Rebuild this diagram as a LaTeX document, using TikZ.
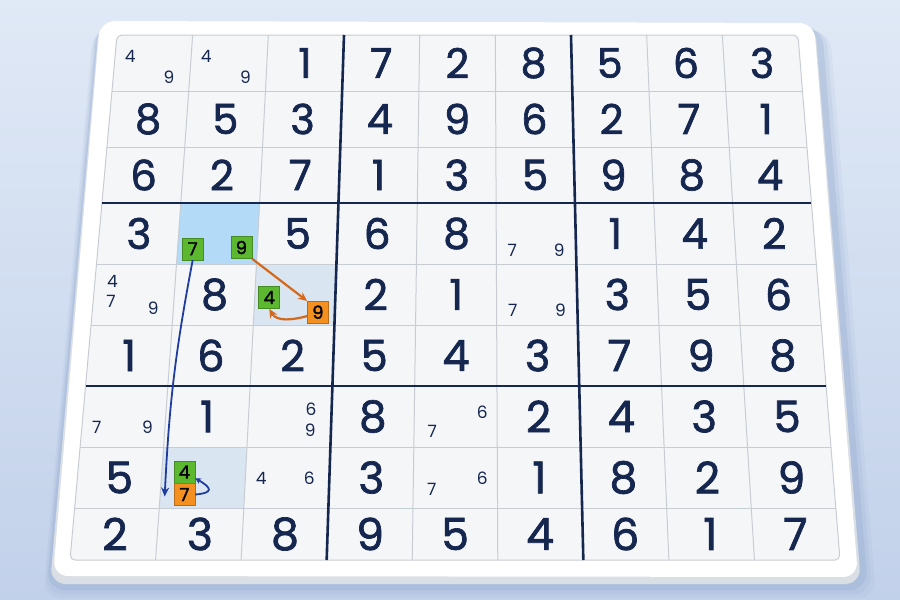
\documentclass[tikz,border=0pt]{standalone}
\usepackage{fontspec}
\setmainfont{Poppins}
\newfontfamily\boardfont{Poppins}[BoldFont={Poppins},BoldFeatures={FakeBold=1.6}]
\usetikzlibrary{calc,arrows.meta,positioning}

\definecolor{navy}{HTML}{15264F}
\definecolor{gridgray}{HTML}{C8CCD3}
\definecolor{cellbg}{HTML}{F5F6F8}
\definecolor{selblue}{HTML}{B3DBF8}
\definecolor{sellight}{HTML}{DAE5F2}
\definecolor{tilegreen}{HTML}{5CB82E}
\definecolor{tileorange}{HTML}{F39020}
\definecolor{pathorange}{HTML}{D4691C}
\definecolor{pathblue}{HTML}{1E3D9F}
\definecolor{bgtop}{HTML}{E0E9F6}
\definecolor{bgbottom}{HTML}{C2D1EA}
\definecolor{boardshadow}{HTML}{8EA5CC}
\definecolor{boardside}{HTML}{DADFE6}

% cell cs: c = column, r = row, counted from the top left corner of the grid
\pgfkeys{/cellcs/.cd,c/.store in=\cellc,r/.store in=\cellr,c=0,r=0}
\tikzdeclarecoordinatesystem{cell}{%
  \pgfkeys{/cellcs/.cd,#1}%
  \pgfmathsetmacro\celly{35+56*min((\cellr),3)+61*max(0,min((\cellr),8)-3)+52*max(0,(\cellr)-8)}%
  \pgfmathsetmacro\cellt{(\celly-35)/525}%
  \pgfmathsetmacro\cellx{117-47*\cellt+(\cellc)*(681+89*\cellt)/9}%
  \pgfpoint{\cellx pt}{-\celly pt}}

\begin{document}
\begin{tikzpicture}[x=1pt,y=-1pt,
    digit/.style={text=navy,inner sep=0pt,font=\boardfont\fontsize{\dsize}{\dsize}\selectfont\bfseries},
    cand/.style={text=navy,inner sep=0pt,font=\boardfont\fontsize{17}{17}\selectfont},
    tile/.style={fill=#1,draw=#1!75!black,line width=0.5pt,minimum width=21pt,minimum height=22pt,inner sep=0pt,text=black,font=\boardfont\fontsize{18}{18}\selectfont\bfseries},
    thin rule/.style={draw=gridgray,line width=1pt},
    box rule/.style={draw=navy,line width=2.6pt},
    move/.style={-{Stealth[length=9pt,width=8pt]},line width=2.2pt,draw=#1},
  ]

  \useasboundingbox (0,0) rectangle (900,600);
  \fill[top color=bgtop,bottom color=bgbottom] (0,0) rectangle (900,600);

  % board
  \foreach \s/\o in {14/0.10,10/0.15,6/0.25}
    \fill[boardshadow,opacity=\o,rounded corners=18pt] (100-\s/2,22+\s/2) -- (816+\s,24+\s/2) -- (862+\s,584+\s) -- (50-\s/2,584+\s) -- cycle;
  \fill[boardside,rounded corners=16pt] (99,23) -- (815,25) -- (861,584) -- (50,584) -- cycle;
  \fill[white,rounded corners=15pt] (100,21) -- (814,23) -- (858,577) -- (53,576) -- cycle;

  % grid
  \draw[thin rule,fill=cellbg,rounded corners=5pt] (cell cs:c=0,r=0) -- (cell cs:c=9,r=0) -- (cell cs:c=9,r=9) -- (cell cs:c=0,r=9) -- cycle;
  \fill[selblue] (cell cs:c=1,r=3) -- (cell cs:c=2,r=3) -- (cell cs:c=2,r=4) -- (cell cs:c=1,r=4) -- cycle;
  \fill[sellight] (cell cs:c=2,r=4) -- (cell cs:c=3,r=4) -- (cell cs:c=3,r=5) -- (cell cs:c=2,r=5) -- cycle;
  \fill[sellight] (cell cs:c=1,r=7) -- (cell cs:c=2,r=7) -- (cell cs:c=2,r=8) -- (cell cs:c=1,r=8) -- cycle;
  \foreach \k in {1,2,4,5,7,8} {
    \draw[thin rule] (cell cs:c=\k,r=0) -- (cell cs:c=\k,r=9);
    \draw[thin rule] (cell cs:c=0,r=\k) -- (cell cs:c=9,r=\k);
  }
  \foreach \k in {3,6} {
    \draw[box rule] (cell cs:c=\k,r=0) -- (cell cs:c=\k,r=9);
    \draw[box rule] (cell cs:c=0,r=\k) -- (cell cs:c=9,r=\k);
  }

  % given and solved digits, 0 = empty cell
  \foreach \vals [count=\r from 0] in {{0,0,1,7,2,8,5,6,3},{8,5,3,4,9,6,2,7,1},{6,2,7,1,3,5,9,8,4},
      {3,0,5,6,8,0,1,4,2},{0,8,0,2,1,0,3,5,6},{1,6,2,5,4,3,7,9,8},
      {0,1,0,8,0,2,4,3,5},{5,0,0,3,0,1,8,2,9},{2,3,8,9,5,4,6,1,7}} {
    \pgfmathsetmacro\dsize{41+0.4*\r}
    \foreach \v [count=\c from 0] in \vals {
      \ifnum\v>0 \node[digit] (n\r\c) at (cell cs:c=\c+0.5,r=\r+0.5) {\v};\fi
    }
  }

  % pencil marks
  \node[cand] (p004) at (cell cs:c=0.2,r=0.39) {4};
  \node[cand] (p009) at (cell cs:c=0.73,r=0.75) {9};
  \node[cand] (p014) at (cell cs:c=1.2,r=0.39) {4};
  \node[cand] (p019) at (cell cs:c=1.73,r=0.75) {9};
  \node[cand] (p357) at (cell cs:c=5.2,r=3.78) {7};
  \node[cand] (p359) at (cell cs:c=5.79,r=3.78) {9};
  \node[cand] (p404) at (cell cs:c=0.22,r=4.29) {4};
  \node[cand] (p407) at (cell cs:c=0.22,r=4.61) {7};
  \node[cand] (p409) at (cell cs:c=0.75,r=4.73) {9};
  \node[cand] (p457) at (cell cs:c=5.2,r=4.76) {7};
  \node[cand] (p459) at (cell cs:c=5.79,r=4.76) {9};
  \node[cand] (p607) at (cell cs:c=0.18,r=6.68) {7};
  \node[cand] (p609) at (cell cs:c=0.79,r=6.68) {9};
  \node[cand] (p626) at (cell cs:c=2.75,r=6.38) {6};
  \node[cand] (p629) at (cell cs:c=2.75,r=6.72) {9};
  \node[cand] (p647) at (cell cs:c=4.22,r=6.75) {7};
  \node[cand] (p646) at (cell cs:c=4.82,r=6.43) {6};
  \node[cand] (p724) at (cell cs:c=2.19,r=7.51) {4};
  \node[cand] (p726) at (cell cs:c=2.76,r=7.51) {6};
  \node[cand] (p747) at (cell cs:c=4.22,r=7.70) {7};
  \node[cand] (p746) at (cell cs:c=4.82,r=7.51) {6};

  % chain
  \node[tile=tilegreen] (g7) at (cell cs:c=1.19,r=3.75) {7};
  \node[tile=tilegreen] (g9) at (cell cs:c=1.80,r=3.73) {9};
  \node[tile=tilegreen] (g4) at (cell cs:c=2.18,r=4.55) {4};
  \node[tile=tileorange] (o9) at (cell cs:c=2.79,r=4.79) {9};
  \node[tile=tilegreen] (h4) at (cell cs:c=1.27,r=7.41) {4};
  \node[tile=tileorange,below=0pt of h4] (o7) {7};
  \coordinate (drop) at ($(o7.west)+(-9,2)$);

  \draw[move=pathorange] (g9.south east) -- (o9.north west);
  \draw[move=pathorange] (o9.200) to[out=195,in=-60] (g4.south);
  \draw[move=pathblue,line width=1.8pt] (g7.south) to[bend right=4] (drop);
  \draw[move=pathblue,line width=1.8pt,-{Stealth[length=6pt,width=6pt]}] (o7.east) to[out=5,in=-30,looseness=3] (h4.-30);
\end{tikzpicture}
\end{document}
